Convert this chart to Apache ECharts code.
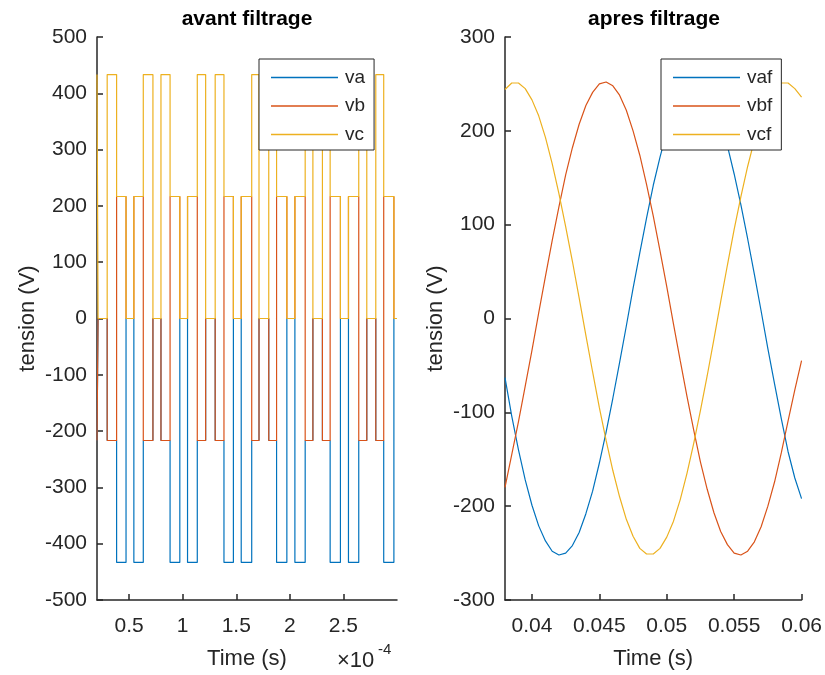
<!DOCTYPE html>
<html>
<head>
<meta charset="utf-8">
<script src="https://cdn.jsdelivr.net/npm/echarts@6/dist/echarts.min.js"></script>
<style>
html, body { margin: 0; padding: 0; background: #fff; }
#chart { width: 825px; height: 675px; }
</style>
</head>
<body>
<div id="chart"></div>
<script>
// --- avant filtrage : instants de commutation (en 1e-4 s) et niveaux ---
const tCommut = [0.200, 0.210, 0.295, 0.383, 0.471, 0.544, 0.632, 0.722, 0.797, 0.882,
                 0.973, 1.045, 1.136, 1.214, 1.303, 1.385, 1.473, 1.546, 1.644, 1.712,
                 1.803, 1.876, 1.972, 2.047, 2.143, 2.215, 2.304, 2.376, 2.472, 2.547,
                 2.643, 2.718, 2.802, 2.876, 2.971];
const tFin = 3.0;

const va = [-216.7, 0,
            -216.7, -433.3, 0, -433.3, -216.7, 0,
            -216.7, -433.3, 0, -433.3, -216.7, 0,
            -216.7, -433.3, 0, -433.3, -216.7, 0,
            -216.7, -433.3, 0, -433.3, -216.7, 0,
            -216.7, -433.3, 0, -433.3, -216.7, 0,
            -216.7, -433.3, 0];
const vb = [-216.7, 0,
            -216.7, 216.7, 0, 216.7, -216.7, 0,
            -216.7, 216.7, 0, 216.7, -216.7, 0,
            -216.7, 216.7, 0, 216.7, -216.7, 0,
            -216.7, 216.7, 0, 216.7, -216.7, 0,
            -216.7, 216.7, 0, 216.7, -216.7, 0,
            -216.7, 216.7, 0];
const vc = [433.3, 0,
            433.3, 216.7, 0, 216.7, 433.3, 0,
            433.3, 216.7, 0, 216.7, 433.3, 0,
            433.3, 216.7, 0, 216.7, 433.3, 0,
            433.3, 216.7, 0, 216.7, 433.3, 0,
            433.3, 216.7, 0, 216.7, 433.3, 0,
            433.3, 216.7, 0];
const ticksAvant = [0.5, 1, 1.5, 2, 2.5];

// --- apres filtrage ---
const tF = [0.0380, 0.0385, 0.0390, 0.0395, 0.0400, 0.0405, 0.0410, 0.0415, 0.0420, 0.0425,
            0.0430, 0.0435, 0.0440, 0.0445, 0.0450, 0.0455, 0.0460, 0.0465, 0.0470, 0.0475,
            0.0480, 0.0485, 0.0490, 0.0495, 0.0500, 0.0505, 0.0510, 0.0515, 0.0520, 0.0525,
            0.0530, 0.0535, 0.0540, 0.0545, 0.0550, 0.0555, 0.0560, 0.0565, 0.0570, 0.0575,
            0.0580, 0.0585, 0.0590, 0.0595, 0.0600];
const vaf = [-63, -104, -140, -172, -199, -221, -237, -248, -252, -250,
             -242, -228, -208, -184, -154, -121, -85, -47, -8, 32,
             70, 107, 142, 172, 199, 221, 237, 248, 252, 250,
             242, 228, 208, 184, 154, 121, 85, 47, 8, -32,
             -70, -107, -142, -170, -192];
const vbf = [-180, -145, -110, -72, -34, 6, 45, 83, 119, 153,
             182, 207, 227, 241, 250, 252, 248, 238, 222, 200,
             174, 143, 109, 72, 34, -6, -45, -83, -119, -153,
             -182, -207, -227, -241, -250, -252, -248, -238, -222, -200,
             -174, -143, -109, -76, -45];
const vcf = [244, 251, 251, 245, 233, 216, 193, 165, 133, 98,
             61, 22, -18, -57, -95, -130, -162, -190, -214, -232,
             -245, -251, -251, -245, -233, -216, -193, -165, -133, -98,
             -61, -22, 18, 57, 95, 130, 162, 190, 214, 232,
             245, 251, 251, 245, 236];
const ticksApres = [0.04, 0.045, 0.05, 0.055, 0.06];

const couleurs = ['#0072BD', '#D95319', '#EDB120'];
const police = "'Liberation Sans', Arial, Helvetica, sans-serif";
const gris = '#262626';

// points en marches d'escalier
function marches(niveaux) {
    const d = tCommut.map((t, i) => [t, niveaux[i]]);
    d.push([tFin, niveaux[niveaux.length - 1]]);
    return d;
}

function courbe(valeurs) {
    return tF.map((t, i) => [t, valeurs[i]]);
}

function axeX(grille, min, max, ticks, nom) {
    return {
        gridIndex: grille, type: 'value', min: min, max: max,
        axisLine: { show: true, onZero: false, lineStyle: { color: gris, width: 1.5 } },
        axisTick: { show: true, inside: true, length: 6, customValues: ticks, lineStyle: { color: gris, width: 1.5 } },
        axisLabel: { customValues: ticks, color: gris, fontSize: 21, fontFamily: police, margin: 16,
                     formatter: v => String(+v.toFixed(4)) },
        splitLine: { show: false },
        name: nom, nameLocation: 'middle', nameGap: 48,
        nameTextStyle: { color: gris, fontSize: 22, fontFamily: police }
    };
}

function axeY(grille, min, max) {
    return {
        gridIndex: grille, type: 'value', min: min, max: max, interval: 100,
        axisLine: { show: true, onZero: false, lineStyle: { color: gris, width: 1.5 } },
        axisTick: { show: true, inside: true, length: 6, lineStyle: { color: gris, width: 1.5 } },
        axisLabel: { color: gris, fontSize: 21, fontFamily: police, margin: 10 },
        splitLine: { show: false },
        name: 'tension (V)', nameLocation: 'middle', nameGap: 58, nameRotate: 90,
        nameTextStyle: { color: gris, fontSize: 22, fontFamily: police }
    };
}

function serie(nom, data, axe, couleur, step) {
    return {
        type: 'line', name: nom, data: data, xAxisIndex: axe, yAxisIndex: axe,
        step: step, symbol: 'none', animation: false,
        lineStyle: { width: 1.2, color: couleur }, itemStyle: { color: couleur }
    };
}

// legende : un simple trait par serie
function legende(gauche, noms) {
    return {
        data: noms, orient: 'vertical', left: gauche, top: 59,
        icon: 'rect', itemWidth: 67, itemHeight: 1.5, itemGap: 9.5, padding: [9, 9, 6, 12],
        borderColor: gris, borderWidth: 1, backgroundColor: '#fff',
        selectedMode: false,
        textStyle: { color: gris, fontSize: 19, fontFamily: police, padding: [0, 0, 0, 2] }
    };
}

const option = {
    animation: false,
    backgroundColor: '#fff',
    grid: [
        { left: 97, top: 37, width: 300, height: 565 },
        { left: 505, top: 37, width: 299, height: 565 }
    ],
    xAxis: [
        axeX(0, 0.2, 3.0, ticksAvant, 'Time (s)'),
        axeX(1, 0.038, 0.06, ticksApres, 'Time (s)')
    ],
    yAxis: [axeY(0, -500, 500), axeY(1, -300, 300)],
    legend: [legende(259, ['va', 'vb', 'vc']), legende(661, ['vaf', 'vbf', 'vcf'])],
    series: [
        serie('va', marches(va), 0, couleurs[0], 'end'),
        serie('vb', marches(vb), 0, couleurs[1], 'end'),
        serie('vc', marches(vc), 0, couleurs[2], 'end'),
        serie('vaf', courbe(vaf), 1, couleurs[0], false),
        serie('vbf', courbe(vbf), 1, couleurs[1], false),
        serie('vcf', courbe(vcf), 1, couleurs[2], false)
    ],
    graphic: [
        { type: 'text', x: 247, y: 19, style: { text: 'avant filtrage', fill: '#000', font: "bold 21px " + police, textAlign: 'center', textVerticalAlign: 'middle' } },
        { type: 'text', x: 654, y: 19, style: { text: 'apres filtrage', fill: '#000', font: "bold 21px " + police, textAlign: 'center', textVerticalAlign: 'middle' } },
        { type: 'text', x: 337, y: 650, style: { text: '\u00d710', fill: gris, font: "22px " + police } },
        { type: 'text', x: 378, y: 642, style: { text: '-4', fill: gris, font: "15px " + police } }
    ]
};

const chartInstance = echarts.init(document.getElementById('chart'));
chartInstance.setOption(option);
</script>
</body>
</html>
